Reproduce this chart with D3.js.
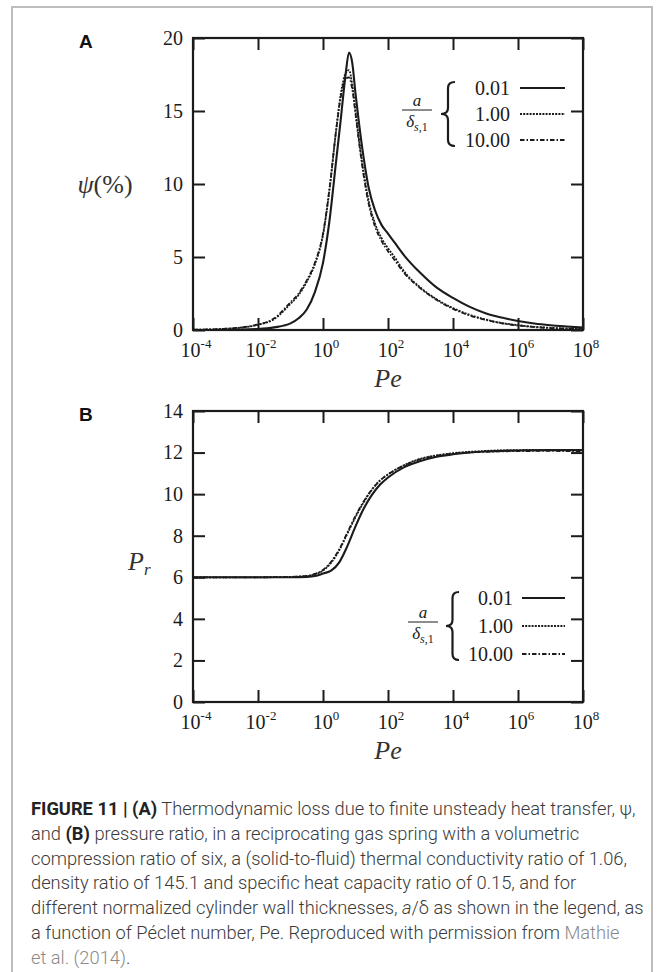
<!DOCTYPE html>
<html>
<head>
<meta charset="utf-8">
<script src="https://cdnjs.cloudflare.com/ajax/libs/d3/7.8.5/d3.min.js"></script>
<style>
body{margin:0;background:#fff;}
</style>
</head>
<body>
<svg id="fig" width="664" height="972"></svg>
<script>
// Pe given as log10 exponents
peExp = [-4,-3,-2,-1.5,-1,-0.75,-0.5,-0.25,0,0.2,0.4,0.55,0.7,0.8,0.9,1,1.1,1.25,1.4,1.6,1.8,2,2.2,2.5,3,3.5,4,4.5,5,5.5,6,6.5,7,7.5,8];
psi001  = [0.0,0.01,0.07,0.18,0.45,0.8,1.4,2.6,4.6,7.5,11.5,14.5,17.6,19.0,18.3,16.2,14.3,11.8,9.8,8.2,7.2,6.6,6.0,5.1,3.9,2.9,2.2,1.6,1.15,0.85,0.62,0.45,0.33,0.24,0.16];
psi100  = [0.02,0.08,0.35,0.75,1.8,2.4,3.3,4.5,6.5,9.6,13.6,16.2,17.6,17.8,16.8,15.0,13.2,10.8,8.9,7.3,6.3,5.6,5.0,4.0,2.9,2.1,1.5,1.05,0.72,0.48,0.33,0.22,0.15,0.1,0.07];
psi1000 = [0.02,0.09,0.38,0.8,1.9,2.5,3.4,4.6,6.6,9.7,13.6,16.0,17.2,17.3,16.5,14.8,13.0,10.6,8.7,7.1,6.1,5.4,4.8,3.9,2.85,2.05,1.45,1.0,0.7,0.46,0.31,0.2,0.13,0.09,0.06];

prExp = [-4,-3,-2,-1,-0.5,-0.25,0,0.25,0.5,0.75,1,1.25,1.5,1.75,2,2.5,3,3.5,4,5,6,7,8];
pr001  = [6.0,6.0,6.0,6.0,6.02,6.06,6.18,6.32,6.72,7.5,8.45,9.3,9.95,10.45,10.8,11.3,11.6,11.8,11.92,12.05,12.1,12.12,12.12];
pr100  = [6.0,6.0,6.0,6.02,6.06,6.14,6.32,6.7,7.3,8.1,8.9,9.6,10.2,10.65,10.95,11.4,11.7,11.87,11.97,12.08,12.12,12.13,12.13];
pr1000 = [6.0,6.0,6.0,6.02,6.07,6.16,6.35,6.75,7.35,8.15,8.95,9.65,10.22,10.65,10.95,11.38,11.68,11.85,11.95,12.04,12.07,12.08,12.05];

legendLabels = ['0.01','1.00','10.00'];
xTickExp = [-4,-2,0,2,4,6,8];
psiTicks = [0,5,10,15,20];
prTicks = [0,2,4,6,8,10,12,14];

captionLines = [
	[['b','FIGURE 11 | (A)'],['n',' Thermodynamic loss due to finite unsteady heat transfer, ψ,']],
	[['n','and '],['b','(B)'],['n',' pressure ratio, in a reciprocating gas spring with a volumetric']],
	[['n','compression ratio of six, a (solid-to-fluid) thermal conductivity ratio of 1.06,']],
	[['n','density ratio of 145.1 and specific heat capacity ratio of 0.15, and for']],
	[['n','different normalized cylinder wall thicknesses, '],['i','a'],['n','/δ as shown in the legend, as']],
	[['n','a function of Péclet number, Pe. Reproduced with permission from '],['g','Mathie']],
	[['g','et al. (2014)'],['n','.']]
];

INK = '#1b1b1b';
SERIF = '"Liberation Serif","DejaVu Serif",serif';
SANS = '"Liberation Sans",Arial,sans-serif';
lineStyles = [
	{dash: null, w: 2.1},
	{dash: '2,1.2', w: 1.8},
	{dash: '4.5,2,1.5,2', w: 1.8}
];

svg = d3.select('#fig');

// light grey frame of the figure
svg.append('path')
	.attr('d', 'M12,980 V7 H652 V980')
	.attr('fill', 'none')
	.attr('stroke', '#bdbdbd')
	.attr('stroke-width', 2);

function serifText(g){
	return g.append('text').style('font-family', SERIF).attr('fill', INK);
}

function drawBrace(g, x0, x1, yTop, yBot){
	let xm = (x0 + x1) / 2, cy = (yTop + yBot) / 2, r = 6;
	let d = `M${x1},${yTop} Q${xm},${yTop} ${xm},${yTop+r} L${xm},${cy-r} Q${xm},${cy} ${x0},${cy}`
		+ ` Q${xm},${cy} ${xm},${cy+r} L${xm},${yBot-r} Q${xm},${yBot} ${x1},${yBot}`;
	g.append('path').attr('d', d).attr('fill', 'none').attr('stroke', INK).attr('stroke-width', 2.2);
}

function drawLegend(g, L){
	let cy = L.y + L.gap;
	// a / delta_{s,1}
	serifText(g).attr('x', L.fx).attr('y', cy - 8).attr('text-anchor', 'middle')
		.attr('font-style', 'italic').attr('font-size', 17).text('a');
	g.append('line').attr('x1', L.fx - 15).attr('x2', L.fx + 15).attr('y1', cy - 4).attr('y2', cy - 4)
		.attr('stroke', INK).attr('stroke-width', 1);
	let dt = serifText(g).attr('x', L.fx).attr('y', cy + 13).attr('text-anchor', 'middle')
		.attr('font-size', 17);
	dt.append('tspan').attr('font-style', 'italic').text('δ');
	dt.append('tspan').attr('font-size', 12).attr('dy', 4).attr('font-style', 'italic').text('s');
	dt.append('tspan').attr('font-size', 12).text(',1');
	drawBrace(g, L.bx0, L.bx1, L.y - 6, L.y + 2 * L.gap + 6);
	legendLabels.forEach((lab, i) => {
		let yy = L.y + i * L.gap;
		serifText(g).attr('x', L.tx).attr('y', yy + 7).attr('text-anchor', 'end')
			.attr('font-size', 20).text(lab);
		g.append('line').attr('x1', L.lx0).attr('x2', L.lx1).attr('y1', yy).attr('y2', yy)
			.attr('stroke', INK).attr('stroke-width', lineStyles[i].w)
			.attr('stroke-dasharray', lineStyles[i].dash);
	});
}

function drawPanel(P){
	let g = svg.append('g');
	let x = d3.scaleLog().domain([1e-4, 1e8]).range([P.left, P.right]);
	let y = d3.scaleLinear().domain(P.yDomain).range([P.bottom, P.top]);
	let xt = xTickExp.map(e => Math.pow(10, e));

	// ticks on all four sides, pointing inward
	let tl = 12;
	g.append('g').attr('transform', `translate(0,${P.bottom})`)
		.call(d3.axisBottom(x).tickValues(xt).tickSize(-tl).tickSizeOuter(0).tickFormat(''));
	g.append('g').attr('transform', `translate(0,${P.top})`)
		.call(d3.axisTop(x).tickValues(xt).tickSize(-tl).tickSizeOuter(0).tickFormat(''));
	g.append('g').attr('transform', `translate(${P.left},0)`)
		.call(d3.axisLeft(y).tickValues(P.yTicks).tickSize(-tl).tickSizeOuter(0).tickPadding(10))
		.selectAll('text').attr('font-size', 20).attr('fill', INK)
		.style('font-family', SERIF);
	g.append('g').attr('transform', `translate(${P.right},0)`)
		.call(d3.axisRight(y).tickValues(P.yTicks).tickSize(-tl).tickSizeOuter(0).tickFormat(''));
	g.selectAll('.domain').remove();
	g.selectAll('.tick line').attr('stroke', INK).attr('stroke-width', 2);

	// x tick labels 10^n
	xTickExp.forEach(e => {
		let t = serifText(g).attr('x', x(Math.pow(10, e)) + 3).attr('y', P.bottom + 27)
			.attr('text-anchor', 'middle').attr('font-size', 20);
		t.append('tspan').text('10');
		t.append('tspan').attr('dy', -9).attr('font-size', 13).text(e);
	});

	g.append('rect').attr('x', P.left).attr('y', P.top)
		.attr('width', P.right - P.left).attr('height', P.bottom - P.top)
		.attr('fill', 'none').attr('stroke', INK).attr('stroke-width', 2.2);

	let line = d3.line()
		.x(d => x(Math.pow(10, d[0])))
		.y(d => y(d[1]))
		.curve(d3.curveMonotoneX);
	[2, 1, 0].forEach(i => {
		g.append('path').datum(d3.zip(P.xs, P.series[i]))
			.attr('d', line).attr('fill', 'none')
			.attr('stroke', INK).attr('stroke-width', lineStyles[i].w)
			.attr('stroke-dasharray', lineStyles[i].dash)
			.attr('stroke-linejoin', 'round');
	});

	// axis titles
	serifText(g).attr('x', (P.left + P.right) / 2).attr('y', P.bottom + 57)
		.attr('text-anchor', 'middle').attr('font-size', 26).attr('font-style', 'italic')
		.attr('fill', '#333').text('Pe');

	g.append('text').attr('x', 79).attr('y', P.top + 10)
		.style('font-family', SANS).attr('font-weight', 'bold')
		.attr('font-size', 19).attr('fill', '#111').text(P.letter);

	drawLegend(g, P.legend);
	return g;
}

gA = drawPanel({
	letter: 'A', left: 193, right: 583, top: 38, bottom: 330,
	yDomain: [0, 20], yTicks: psiTicks, xs: peExp, series: [psi001, psi100, psi1000],
	legend: {y: 88, gap: 26, fx: 417, bx0: 441, bx1: 455, tx: 510, lx0: 520, lx1: 565}
});
yl = serifText(gA).attr('x', 105).attr('y', 193).attr('text-anchor', 'middle')
	.attr('font-size', 26).attr('fill', '#333');
yl.append('tspan').attr('font-style', 'italic').text('ψ');
yl.append('tspan').text('(%)');

gB = drawPanel({
	letter: 'B', left: 193, right: 583, top: 411, bottom: 702,
	yDomain: [0, 14], yTicks: prTicks, xs: prExp, series: [pr001, pr100, pr1000],
	legend: {y: 598, gap: 28, fx: 423, bx0: 446, bx1: 459, tx: 513, lx0: 522, lx1: 565}
});
pl = serifText(gB).attr('x', 128).attr('y', 570).attr('font-size', 26)
	.attr('font-style', 'italic').attr('fill', '#333');
pl.append('tspan').text('P');
pl.append('tspan').attr('font-size', 17).attr('dy', 5).text('r');

// caption
cap = svg.append('g').attr('font-size', 18.3).attr('fill', '#3a3a3a');
captionLines.forEach((parts, i) => {
	let t = cap.append('text').attr('x', 31).attr('y', 815 + i * 24.8)
		.style('font-family', 'Roboto,"Liberation Sans",sans-serif').attr('font-weight', 300);
	parts.forEach(p => {
		let s = t.append('tspan').text(p[1]);
		if(p[0] == 'b') s.attr('font-weight', 700).attr('fill', '#222');
		if(p[0] == 'i') s.attr('font-style', 'italic');
		if(p[0] == 'g') s.attr('fill', '#8a8a8a');
	});
});
</script>
</body>
</html>
